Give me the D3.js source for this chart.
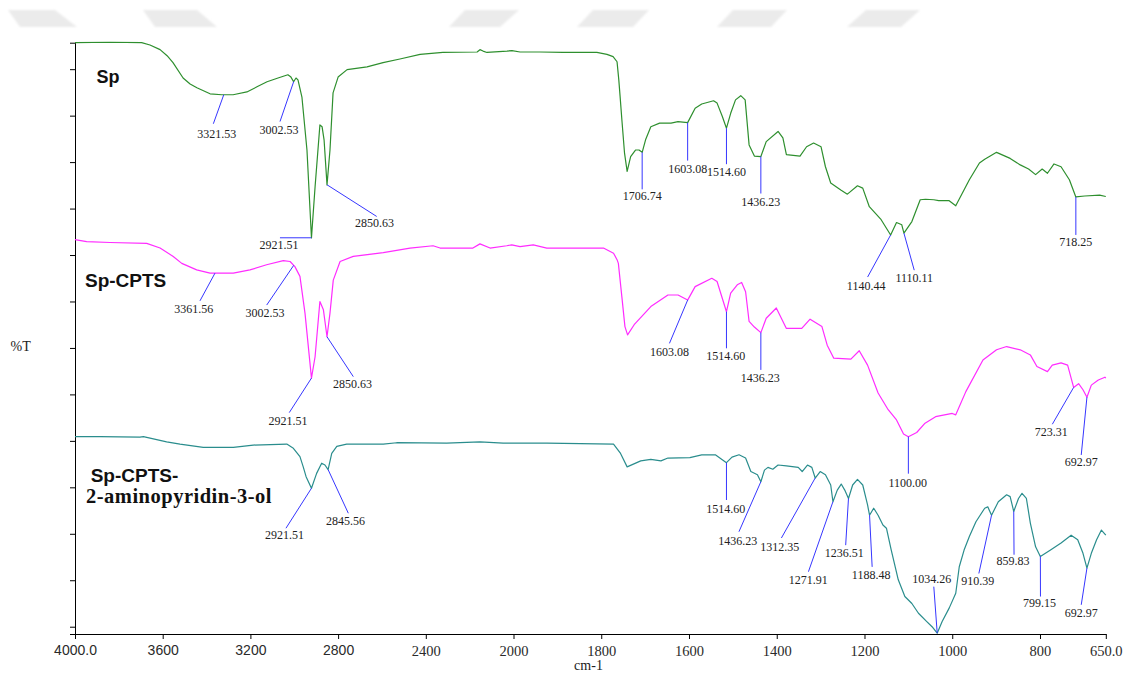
<!DOCTYPE html>
<html>
<head>
<meta charset="utf-8">
<script src="https://cdn.jsdelivr.net/npm/d3@7"></script>
<style>
  html, body { margin: 0; padding: 0; background: #fff; }
  svg { display: block; }
</style>
</head>
<body>
<svg id="chart" width="1131" height="676"></svg>
<script>
// ---- Spectra: [wavenumber (cm-1), transmittance (offset, arbitrary units)] ----
const spData = [
  [4000,125.7],[3840,125.8],[3696,125.7],[3658,125.2],[3612,124.2],[3580,122.9],[3553,121.4],[3507,118.1],
  [3475,116.8],[3444,116.0],[3384,114.7],[3330,114.5],[3279,114.5],[3216,115.1],[3170,116.2],[3124,117.3],
  [3074,118.1],[3029,118.8],[3015,118.3],[3003,117.3],[2992,118.1],[2983,117.7],[2965,114.0],[2942,102.6],
  [2921.5,83.7],[2905,94.7],[2883,108.0],[2873,107.6],[2864,104.8],[2850.6,95.1],[2837,102.6],[2823,114.9],
  [2800,118.3],[2759,119.9],[2668,120.5],[2595,121.4],[2518,122.2],[2426,123.2],[2322,123.6],[2166,123.7],
  [2153,124.2],[2139,123.9],[2121,123.6],[2030,123.9],[2007,124.0],[1985,123.7],[1940,123.7],[1887,123.6],
  [1810,123.6],[1787,123.2],[1773,122.7],[1764,121.6],[1760,117.7],[1757,114.1],[1753,109.1],[1747,102.0],
  [1741,98.0],[1733,101.2],[1722,102.6],[1714,102.6],[1706.7,102.1],[1699,104.8],[1687,107.6],[1667,108.4],
  [1641,108.4],[1625,108.7],[1603.1,108.5],[1586,111.6],[1571,112.5],[1544,113.2],[1536,112.7],[1524,109.8],
  [1514.6,107.3],[1505,110.5],[1494,113.4],[1482,114.3],[1472,113.4],[1463,103.7],[1451,101.3],[1436.2,101.2],
  [1424,104.4],[1397,106.6],[1386,105.2],[1378,101.6],[1347,101.3],[1332,103.3],[1316,104.1],[1299,103.3],
  [1289,99.0],[1277,95.5],[1254,94.0],[1239,93.1],[1216,94.9],[1204,94.4],[1189,90.4],[1162,87.6],
  [1140.4,84.3],[1127,87.0],[1115,86.5],[1110.1,84.7],[1092,87.2],[1073,91.9],[1061,92.0],[1042,91.9],
  [1031,91.7],[1007,91.7],[992,90.6],[961,96.2],[938,99.8],[926,100.6],[899,102.1],[868,100.8],
  [845,99.4],[826,98.5],[810,97.3],[795,98.5],[783,97.6],[768,99.6],[752,99.0],[733,96.2],
  [718.3,92.5],[698,92.7],[664,92.9],[650,92.6]
];

const cptsData = [
  [4000,83.3],[3947,82.9],[3840,82.7],[3673,82.5],[3612,81.5],[3552,79.7],[3513,78.2],[3445,76.8],
  [3384,76.1],[3278,76.1],[3202,76.8],[3126,77.9],[3050,78.8],[3019,78.6],[2997,77.5],[2974,75.4],
  [2951,67.5],[2921.5,53.5],[2905,58.1],[2883,70.0],[2867,68.2],[2850.6,62.4],[2837,67.5],[2822,74.6],
  [2791,78.6],[2731,79.7],[2594,80.5],[2472,81.5],[2367,82.0],[2335,81.5],[2185,81.5],[2153,82.4],
  [2107,81.5],[2031,82.0],[2008,82.2],[1985,81.8],[1955,82.2],[1924,81.5],[1795,81.5],[1772,80.4],
  [1764,79.0],[1761,78.2],[1753,71.0],[1746,64.6],[1740,62.8],[1725,65.0],[1687,68.9],[1648,71.4],
  [1625,71.4],[1603.1,70.3],[1586,73.2],[1548,75.0],[1536,74.3],[1514.6,67.8],[1505,71.8],[1490,73.6],
  [1480,74.1],[1471,72.1],[1463,65.7],[1451,64.5],[1436.2,63.3],[1424,66.4],[1401,68.6],[1378,64.2],
  [1343,64.2],[1324,66.2],[1297,64.6],[1285,60.6],[1270,57.8],[1231,57.6],[1212,59.4],[1193,56.3],
  [1169,50.3],[1146,46.7],[1127,44.5],[1111,41.5],[1100,40.9],[1081,41.8],[1062,43.8],[1038,45.2],
  [1000,45.9],[992,45.6],[969,50.6],[930,57.4],[899,59.6],[876,60.3],[845,59.6],[822,58.5],
  [807,56.0],[783,54.9],[772,56.3],[752,56.8],[737,56.3],[723.3,51.5],[712,52.3],[702,51.0],
  [693,49.4],[683,52.0],[667,53.1],[652,53.7],[650,53.5]
];

const aminoData = [
  [4000,40.9],[3886,40.9],[3704,40.8],[3688,40.9],[3582,39.8],[3521,39.3],[3415,38.6],[3278,38.6],
  [3187,39.1],[3034,39.3],[3004,38.4],[2974,36.6],[2959,34.4],[2946,32.3],[2921.5,29.8],[2898,33.0],
  [2875,35.2],[2860,34.8],[2845.6,33.8],[2829,37.3],[2806,38.8],[2761,39.3],[2594,39.3],[2533,39.6],
  [2305,39.5],[2153,39.8],[2047,39.5],[1924,39.5],[1772,39.3],[1756,37.3],[1741,34.4],[1710,35.7],
  [1687,36.0],[1664,35.7],[1648,36.3],[1598,36.4],[1571,37.0],[1540,37.0],[1514.6,35.3],[1502,36.5],
  [1486,37.0],[1471,36.3],[1459,33.4],[1444,32.7],[1436.2,31.2],[1428,33.7],[1420,34.3],[1409,33.9],
  [1397,34.8],[1378,34.6],[1351,34.3],[1342,33.4],[1330,34.8],[1320,34.3],[1312.4,32.0],[1301,33.4],
  [1289,32.7],[1277,30.5],[1271.9,26.9],[1262,29.4],[1253,30.7],[1245,29.4],[1236.5,27.6],[1227,30.5],
  [1216,31.7],[1204,30.5],[1193,26.2],[1188.5,24.0],[1179,25.5],[1169,24.0],[1158,21.9],[1150,21.2],
  [1139,16.5],[1123,10.1],[1108,6.5],[1092,5.0],[1077,2.9],[1058,1.1],[1046,0.0],[1034.3,-1.4],
  [1023,1.1],[1007,4.0],[992,7.2],[984,12.9],[973,16.5],[961,19.4],[946,22.6],[926,25.5],
  [919,25.8],[910.4,24.0],[895,26.9],[876,28.4],[868,28.0],[859.8,24.8],[849,27.6],[841,28.7],
  [831,27.6],[822,22.3],[810,17.2],[799.2,15.1],[776,16.5],[752,18.0],[729,19.7],[714,18.7],
  [702,15.8],[693,12.6],[683,15.8],[671,18.7],[660,20.8],[650,19.7]
];

// ---- Picked peaks (cm-1) ----
const spPeaks    = [3321.53, 3002.53, 2921.51, 2850.63, 1706.74, 1603.08, 1514.60, 1436.23, 1140.44, 1110.11, 718.25];
const cptsPeaks  = [3361.56, 3002.53, 2921.51, 2850.63, 1603.08, 1514.60, 1436.23, 1100.00, 723.31, 692.97];
const aminoPeaks = [2921.51, 2845.56, 1514.60, 1436.23, 1312.35, 1271.91, 1236.51, 1188.48, 1034.26, 910.39, 859.83, 799.15, 692.97];

// ---- Axis ticks ----
const xTickValues = [4000, 3600, 3200, 2800, 2400, 2000, 1800, 1600, 1400, 1200, 1000, 800, 650];
const yTickValues = d3.range(0, 121, 10);

// ---- Peak label leader layout: [line end dx, dy, label dx, label baseline dy] from the peak point ----
const spLeaders = [
  [-10.4, 29, -7, 43], [-13.7, 40, -14.7, 52], [-31.5, 0, -32.5, 11.5], [49.7, 31.7, 47.5, 42.5],
  [0, 37, 0, 48], [0, 38, 0, 50], [0, 36, 0, 48], [0, 37, 0, 49],
  [-23, 42, -24.5, 55], [10.3, 37, 10.3, 49], [0, 38, 0, 49]
];
const cptsLeaders = [
  [-15, 27.7, -21.3, 40], [-27, 39.7, -28.7, 51.7], [-22.2, 34.5, -23.5, 46.8], [26.3, 39.9, 25.5, 51.2],
  [-18.2, 43.3, -18.1, 56], [0, 36.6, -0.8, 48.3], [0, 37.3, -0.7, 49.3], [0, 37, -0.7, 50.5],
  [-21.3, 36.8, -22.3, 48.5], [-5.7, 57.8, -5.6, 68.8]
];
const aminoLeaders = [
  [-25.5, 40, -27, 51.2], [20.2, 43.6, 17.4, 55.3], [0, 37.3, -0.8, 49.8], [-21.9, 50, -23.1, 62.8],
  [-33.8, 60, -35.5, 72.7], [-24.5, 70, -24.8, 82.8], [-2.8, 46.7, -4.3, 58.2], [2.6, 51.7, 1.6, 64],
  [-3.4, -46.5, -5.5, -49.7], [-12.7, 58.3, -13.7, 70], [0.3, 43.3, -0.8, 53.8], [0.1, 40, -0.8, 50.8],
  [-5.7, 36.7, -5.6, 49.2]
];

const svg = d3.select("#chart");

// faint header banner shapes
const banner = [
  [[8,10],[55,10],[77,27],[20,27]],
  [[143,10],[197,10],[217,27],[155,27]],
  [[465,10],[519,10],[500,27],[449,27]],
  [[593,10],[649,10],[633,27],[577,27]],
  [[733,10],[787,10],[771,27],[717,27]],
  [[866,10],[920,10],[901,27],[847,27]]
];
const defs = svg.append("defs");
defs.append("filter").attr("id", "soft").append("feGaussianBlur").attr("stdDeviation", 0.8);
svg.append("g").attr("filter", "url(#soft)")
  .selectAll("polygon").data(banner).join("polygon")
  .attr("points", d => d.map(p => p.join(",")).join(" "))
  .attr("fill", "#ebebeb");

// Wavenumber scale changes resolution at 2000 cm-1
const x = d3.scaleLinear().domain([4000, 2000, 650]).range([75, 513.5, 1105.8]);
const y = d3.scaleLinear().domain([-1.57, 125.7]).range([634, 42.7]);

// axes
const xAxis = d3.axisBottom(x)
  .tickValues(xTickValues)
  .tickSize(5).tickSizeOuter(0).tickPadding(6.5)
  .tickFormat(d => (d === 4000 || d === 650) ? d3.format(".1f")(d) : String(d));
const gx = svg.append("g").attr("transform", "translate(0,634)").call(xAxis);
gx.selectAll("path, line").attr("stroke", "#000");
gx.selectAll("text")
  .attr("fill", "#2a2a2a")
  .style("font-family", d => d >= 2800 ? "'Liberation Sans', Arial, sans-serif" : "'Liberation Serif', 'Times New Roman', serif")
  .style("font-size", d => d >= 2800 ? "14px" : "14.5px");

const yAxis = d3.axisLeft(y).tickValues(yTickValues).tickSize(5).tickSizeOuter(5).tickFormat("");
const gy = svg.append("g").attr("transform", "translate(75,0)").call(yAxis);
gy.selectAll("path, line").attr("stroke", "#000");

// axis titles
svg.append("text").attr("x", 588.5).attr("y", 670).attr("text-anchor", "middle")
  .style("font-family", "'Liberation Serif', serif").style("font-size", "14px").attr("fill", "#222")
  .text("cm-1");
svg.append("text").attr("x", 10.5).attr("y", 350.7)
  .style("font-family", "'Liberation Serif', serif").style("font-size", "14px").attr("fill", "#222")
  .text("%T");

// spectra
const line = d3.line().x(d => x(d[0])).y(d => y(d[1]));

function valueAt(data, w) {
  for (let i = 0; i < data.length - 1; i++) {
    const a = data[i], b = data[i + 1];
    if (w <= a[0] && w >= b[0]) {
      const t = (a[0] - w) / (a[0] - b[0]);
      return a[1] + t * (b[1] - a[1]);
    }
  }
  return data[data.length - 1][1];
}

const series = [
  { data: spData,    color: "#2e8f2e", peaks: spPeaks,    leaders: spLeaders },
  { data: cptsData,  color: "#ff2cff", peaks: cptsPeaks,  leaders: cptsLeaders },
  { data: aminoData, color: "#2a8d8d", peaks: aminoPeaks, leaders: aminoLeaders }
];

const fmt = d3.format(".2f");
series.forEach(s => {
  svg.append("path").datum(s.data)
    .attr("d", line)
    .attr("fill", "none")
    .attr("stroke", s.color)
    .attr("stroke-width", 1.2)
    .attr("stroke-linejoin", "round");

  const g = svg.append("g");
  s.peaks.forEach((w, i) => {
    const px = x(w), py = y(valueAt(s.data, w));
    const L = s.leaders[i];
    g.append("line")
      .attr("x1", px).attr("y1", py)
      .attr("x2", px + L[0]).attr("y2", py + L[1])
      .attr("stroke", "#3636ff").attr("stroke-width", 1);
    g.append("text")
      .attr("x", px + L[2]).attr("y", py + L[3])
      .attr("text-anchor", "middle")
      .style("font-family", "'Liberation Serif', 'Times New Roman', serif")
      .style("font-size", "12px")
      .attr("fill", "#222")
      .text(fmt(w));
  });
});

// sample names
const sansBold = "'Liberation Sans', Arial, sans-serif";
svg.append("text").attr("x", 96.5).attr("y", 83.3)
  .style("font-family", sansBold).style("font-weight", "bold").style("font-size", "18px")
  .attr("fill", "#111").text("Sp");
svg.append("text").attr("x", 85).attr("y", 287.3)
  .style("font-family", sansBold).style("font-weight", "bold").style("font-size", "19px")
  .attr("fill", "#111").text("Sp-CPTS");
svg.append("text").attr("x", 90.7).attr("y", 482.3)
  .style("font-family", sansBold).style("font-weight", "bold").style("font-size", "19px")
  .attr("fill", "#111").text("Sp-CPTS-");
svg.append("text").attr("x", 86).attr("y", 502.7)
  .style("font-family", "'Liberation Serif', 'Times New Roman', serif").style("font-weight", "bold")
  .style("font-size", "20.5px").style("letter-spacing", "0.5px")
  .attr("fill", "#111").text("2-aminopyridin-3-ol");
</script>
</body>
</html>
